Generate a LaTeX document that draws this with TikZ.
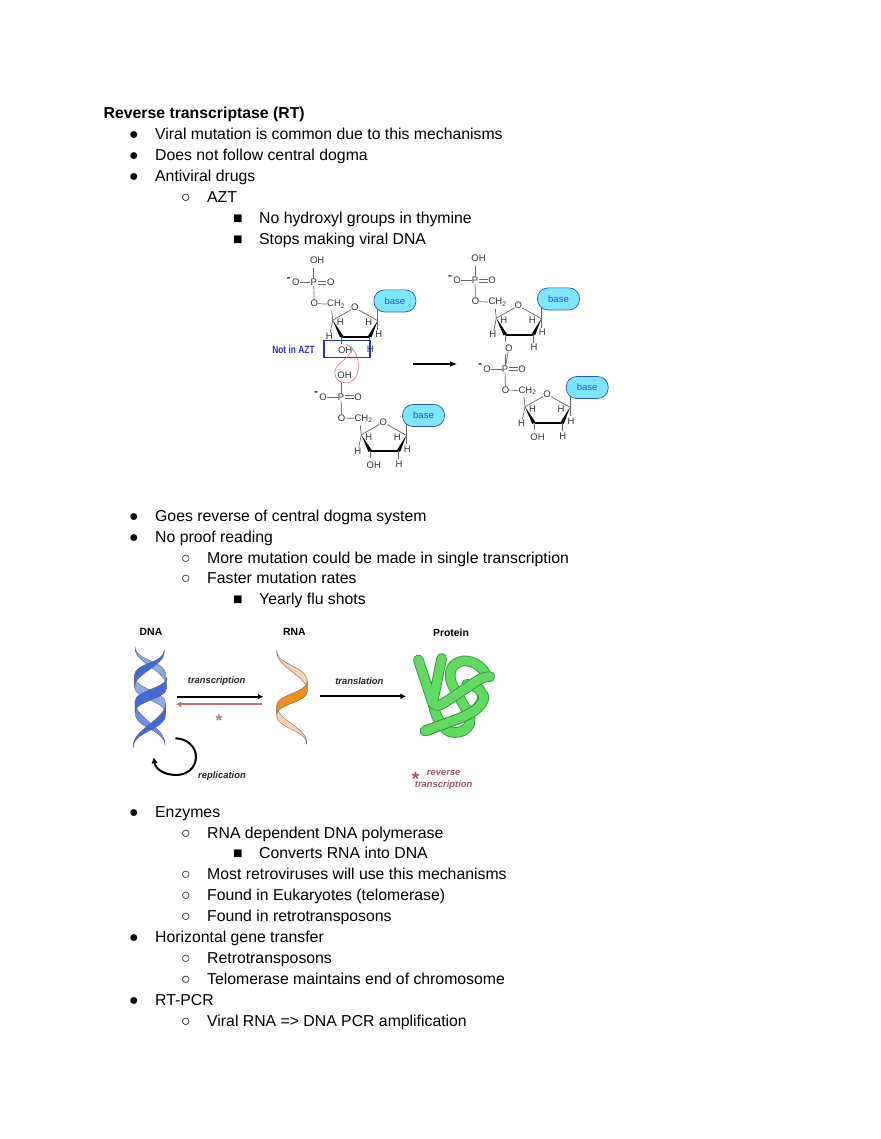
\documentclass[tikz,border=0pt]{standalone}
\usepackage{fontspec}
\setmainfont{Liberation Sans}
\usetikzlibrary{arrows.meta}
\definecolor{chemgray}{HTML}{333333}
\definecolor{bondgray}{HTML}{666666}
\definecolor{basefill}{HTML}{7FE6FF}
\definecolor{baseblue}{HTML}{2A50D8}
\definecolor{boxblue}{HTML}{2A2FC8}
\definecolor{rtpink}{HTML}{C96A6E}
\definecolor{rtmauve}{HTML}{9A5570}
\definecolor{dnadark}{HTML}{4469D6}
\definecolor{dnamid}{HTML}{6F8FE4}
\definecolor{dnalight}{HTML}{8FA9E8}
\definecolor{rnalight}{HTML}{F8D2AE}
\definecolor{rnadark}{HTML}{EC8F1E}
\definecolor{protfill}{HTML}{62DA62}
\definecolor{protedge}{HTML}{2F9A3A}
\tikzset{
  listtext/.style={anchor=base west,inner sep=0pt,font=\fontsize{15.8}{19}\selectfont},
  bullet/.style={anchor=base,inner sep=0pt,font=\fontsize{15.8}{19}\selectfont},
  atom/.style={inner sep=0pt,text=chemgray,font=\fontsize{9.5}{10}\selectfont},
  thinbond/.style={draw=bondgray,line width=.7pt},
  heavybond/.style={draw=black,line width=1.9pt},
  basebox/.style={draw=baseblue,fill=basefill,rounded corners=10.5pt,minimum width=42pt,minimum height=22pt,inner sep=0pt,
     text=baseblue,font=\fontsize{9.5}{10}\selectfont,line width=.7pt},
  figlabel/.style={inner sep=0pt,font=\fontsize{10.4}{11}\selectfont\bfseries},
  figitalic/.style={inner sep=0pt,font=\fontsize{9.4}{10}\selectfont\bfseries\itshape,text=black!85},
  rtlabel/.style={inner sep=0pt,text=rtmauve,font=\fontsize{9.4}{10}\selectfont\bfseries\itshape},
  flowarrow/.style={line width=1.9pt,-{Latex[length=5.5pt,width=6pt]}}
}
% #1 prefix, #2 x,y of P, #3 top label
\newcommand{\phosphate}[3]{%
  \begin{scope}[shift={(#2)}]
    \node[atom] (#1P) at (0,0) {P};
    \node[atom] (#1T) at (3.5,-22) {#3};
    \node[atom] (#1M) at (-18,0) {O};
    \node[atom,font=\fontsize{12}{12}\selectfont\bfseries] (#1C) at (-25,-3.5) {-};
    \node[atom] (#1D) at (17,0) {O};
    \node[atom] (#1B) at (.5,21) {O};
    \node[atom] (#1H) at (22.5,21.5) {CH\textsubscript{2}};
    \draw[thinbond] (#1M) -- (#1P);
    \draw[thinbond] (4,-1.3) -- (12.5,-1.3) (4,1.3) -- (12.5,1.3);
    \draw[thinbond] (#1P) -- (#1B);
    \draw[thinbond] (#1B) -- (#1H);
    \draw[thinbond] (0,-15) -- (#1P);
  \end{scope}}
% #1 prefix, #2 x,y of ring O, #3 lower-left label, #4 lower-right label
\newcommand{\sugarring}[4]{%
  \begin{scope}[shift={(#2)}]
    \node[atom] (#1O) at (0,0) {O};
    \coordinate (#1LV) at (-22,12.5);
    \coordinate (#1BL) at (-13,29);
    \coordinate (#1BR) at (15,29);
    \coordinate (#1RV) at (23,13);
    \draw[thinbond] (#1O) -- (#1LV) (#1O) -- (#1RV);
    \fill (#1LV) -- (-14.8,29.6) -- (-11.2,28.4) -- cycle;
    \fill (#1RV) -- (16.8,29.6) -- (13.2,28.4) -- cycle;
    \draw[heavybond] (#1BL) -- (#1BR);
    \draw[thinbond] (#1LV) -- (-23,3) (#1LV) -- (-24.5,25);
    \draw[thinbond] (#1RV) -- (23,0) (#1RV) -- (23,22);
    \draw[thinbond] (#1BL) -- (-13,36) (#1BR) -- (15,37);
    \node[atom] (#1Ha) at (-14.5,14.5) {H};
    \node[atom] (#1Hb) at (14,14.5) {H};
    \node[atom] (#1Hc) at (-25.5,29) {H};
    \node[atom] (#1Hd) at (24,26.5) {H};
    \node[atom] (#1Le) at (-9.5,42.5) {#3};
    \node[atom] (#1Ri) at (15.7,42) {#4};
    \node[basebox] (#1Base) at (40.2,-6.8) {base};
  \end{scope}}
% ribbon segment between two fold points: x1,y1,x2,y2,colour,half width at start,half width at end
\newcommand{\ribbon}[7]{%
  \filldraw[fill=#5,draw=black!65,line width=.3pt]
   (#1,#2-#6) .. controls (#1,#2+.45*#4-.45*#2-#6) and (#3,#4-.45*#4+.45*#2-#7) .. (#3,#4-#7)
   -- (#3,#4+#7) .. controls (#3,#4-.45*#4+.45*#2+#7) and (#1,#2+.45*#4-.45*#2+#6) .. (#1,#2+#6) -- cycle;}
\newcommand{\tube}[1]{%
  \draw[protedge,line width=10.6pt,line cap=round,line join=round] #1;
  \draw[protfill,line width=8.8pt,line cap=round,line join=round] #1;}
\newcommand{\tubebutt}[1]{%
  \draw[protedge,line width=10.6pt,line cap=butt] #1;
  \draw[protfill,line width=8.8pt,line cap=butt] #1;}
\begin{document}
\begin{tikzpicture}[x=1pt,y=-1pt]
\useasboundingbox (0,0) rectangle (880,1139);
\fill[white] (0,0) rectangle (880,1139);
% ---------- text ----------
\node[listtext,font=\fontsize{15.8}{19}\selectfont\bfseries] (title) at (103.5,118.5) {Reverse transcriptase (RT)};
\node[bullet] (b1) at (134,139.5) {●}; \node[listtext] (t1) at (155,139.5) {Viral mutation is common due to this mechanisms};
\node[bullet] (b2) at (134,160.5) {●}; \node[listtext] (t2) at (155,160.5) {Does not follow central dogma};
\node[bullet] (b3) at (134,181.5) {●}; \node[listtext] (t3) at (155,181.5) {Antiviral drugs};
\node[bullet] (b4) at (186,202.5) {○}; \node[listtext] (t4) at (207,202.5) {AZT};
\node[bullet] (b5) at (238,223.5) {■}; \node[listtext] (t5) at (259,223.5) {No hydroxyl groups in thymine};
\node[bullet] (b6) at (238,244.5) {■}; \node[listtext] (t6) at (259,244.5) {Stops making viral DNA};
\node[bullet] (b7) at (134,521) {●}; \node[listtext] (t7) at (155,521) {Goes reverse of central dogma system};
\node[bullet] (b8) at (134,542) {●}; \node[listtext] (t8) at (155,542) {No proof reading};
\node[bullet] (b9) at (186,563) {○}; \node[listtext] (t9) at (207,563) {More mutation could be made in single transcription};
\node[bullet] (b10) at (186,583.5) {○}; \node[listtext] (t10) at (207,583.5) {Faster mutation rates};
\node[bullet] (b11) at (238,604.5) {■}; \node[listtext] (t11) at (259,604.5) {Yearly flu shots};
\node[bullet] (b12) at (134,817) {●}; \node[listtext] (t12) at (155,817) {Enzymes};
\node[bullet] (b13) at (186,838) {○}; \node[listtext] (t13) at (207,838) {RNA dependent DNA polymerase};
\node[bullet] (b14) at (238,858.5) {■}; \node[listtext] (t14) at (259,858.5) {Converts RNA into DNA};
\node[bullet] (b15) at (186,879.5) {○}; \node[listtext] (t15) at (207,879.5) {Most retroviruses will use this mechanisms};
\node[bullet] (b16) at (186,900.5) {○}; \node[listtext] (t16) at (207,900.5) {Found in Eukaryotes (telomerase)};
\node[bullet] (b17) at (186,921.5) {○}; \node[listtext] (t17) at (207,921.5) {Found in retrotransposons};
\node[bullet] (b18) at (134,942.5) {●}; \node[listtext] (t18) at (155,942.5) {Horizontal gene transfer};
\node[bullet] (b19) at (186,963) {○}; \node[listtext] (t19) at (207,963) {Retrotransposons};
\node[bullet] (b20) at (186,984) {○}; \node[listtext] (t20) at (207,984) {Telomerase maintains end of chromosome};
\node[bullet] (b21) at (134,1005) {●}; \node[listtext] (t21) at (155,1005) {RT-PCR};
\node[bullet] (b22) at (186,1026) {○}; \node[listtext] (t22) at (207,1026) {Viral RNA => DNA PCR amplification};
% ---------- chemistry ----------
\phosphate{pa}{313.7,282.7}{OH}
\sugarring{ra}{354.7,307.7}{OH}{H}
\phosphate{pb}{341,397}{OH}
\sugarring{rb}{383.3,422.3}{OH}{H}
\phosphate{pc}{475,280.7}{OH}
\sugarring{rc}{518.3,305.7}{O}{H}
\phosphate{pd}{505,369}{}
\sugarring{rd}{547,394.3}{OH}{H}
\draw[thinbond] (rcLe) -- (pdP);
\node[draw=boxblue,line width=1.2pt,minimum width=46pt,minimum height=17.5pt,inner sep=0pt] (azt) at (347,349) {};
\node[inner sep=0pt,text=boxblue,font=\fontsize{10.5}{11}\selectfont\bfseries,xscale=.8,transform shape] (notazt) at (293.5,350) {Not in AZT};
\coordinate (rxa) at (413,364); \coordinate (rxb) at (457,364);
\draw[line width=1.1pt,-{Latex[length=7pt,width=6pt]}] (rxa) -- (rxb);
\begin{scope}[shift={(260,250)},x=.3333pt,y=-.3333pt]
\draw[rtpink!90,line width=.6pt] (258,283) .. controls (285,295) and (298,325) .. (295,355)
   .. controls (293,385) and (275,402) .. (252,398)
   .. controls (230,395) and (218,375) .. (228,355)
   .. controls (238,335) and (268,325) .. (278,295);
\end{scope}
% ---------- DNA ribbons ----------
\begin{scope}[shift={(125,640)},x=.3333pt,y=-.3333pt]
\ribbon{30}{22}{122}{120}{dnalight}{3}{15}
\ribbon{28}{125}{122}{205}{dnalight}{15}{15}
\ribbon{30}{200}{120}{315}{dnamid}{16}{3}
\ribbon{118}{33}{28}{125}{dnadark}{3}{17}
\ribbon{125}{128}{30}{200}{dnadark}{16}{16}
\ribbon{122}{205}{25}{320}{dnadark}{16}{3}
\end{scope}
% ---------- central dogma figure, labels, RNA, arrows ----------
\begin{scope}[shift={(120,620)},x=.3333pt,y=-.3333pt]
\node[figlabel] (dna) at (93,37) {DNA};
\node[figlabel] (rna) at (523,37) {RNA};
\ribbon{470}{92}{562}{200}{rnalight}{3}{15}
\ribbon{470}{270}{560}{370}{rnalight}{14}{3}
\ribbon{562}{200}{470}{270}{rnadark}{15}{14}
\node[figitalic] (lbltr) at (290,184) {transcription};
\node[figitalic] (lblrep) at (306,467) {replication};
\coordinate (tra) at (170,230); \coordinate (trb) at (430,230);
\coordinate (rta) at (427,253); \coordinate (rtb) at (168,253);
\draw[flowarrow] (tra) -- (trb);
\draw[flowarrow,rtpink] (rta) -- (rtb);
\node[inner sep=0pt,text=rtmauve!80,font=\fontsize{17}{17}\selectfont\bfseries] (star) at (297,301) {*};
\coordinate (repa) at (166,355); \coordinate (repb) at (101,412);
\draw[line width=2pt,-{Latex[length=6pt,width=6.5pt]}] (repa)
  .. controls (200,355) and (228,380) .. (228,410)
  .. controls (228,445) and (200,465) .. (168,465)
  .. controls (130,465) and (106,445) .. (repb);
\end{scope}
% ---------- translation arrow and labels ----------
\begin{scope}[shift={(300,620)},x=.3333pt,y=-.3333pt]
\node[figlabel] (prot) at (453,37) {Protein};
\node[figitalic] (lbltl) at (178,183) {translation};
\coordinate (tla) at (60,229); \coordinate (tlb) at (318,229);
\draw[flowarrow] (tla) -- (tlb);
\node[inner sep=0pt,text=rtmauve,font=\fontsize{19}{19}\selectfont\bfseries] (star2) at (347,467) {\makebox[0pt]{\raisebox{-10pt}[0pt][0pt]{*}}};
\node[rtlabel] (rv1) at (431,459) {reverse};
\node[rtlabel] (rv2) at (431,495) {transcription};
\end{scope}
% ---------- protein ----------
\begin{scope}[shift={(405,645)},x=.3333pt,y=-.3333pt]
\tube{(245,95) .. controls (235,60) and (190,40) .. (165,50) .. controls (130,60) and (130,100) .. (145,125) -- (190,205) .. controls (215,255) and (150,275) .. (125,255) .. controls (100,230) and (90,205) .. (85,180)}
\tube{(60,258) -- (150,225) .. controls (210,205) and (250,170) .. (225,135) .. controls (215,125) and (200,120) .. (185,118)}
\tube{(40,45) -- (80,165) .. controls (85,185) and (100,185) .. (115,175) -- (220,105) .. controls (232,98) and (245,95) .. (255,95) (110,40) -- (85,165)}
\tubebutt{(60,258) -- (150,225) .. controls (210,205) and (250,170) .. (232,145)}
\end{scope}
\end{tikzpicture}
\end{document}
